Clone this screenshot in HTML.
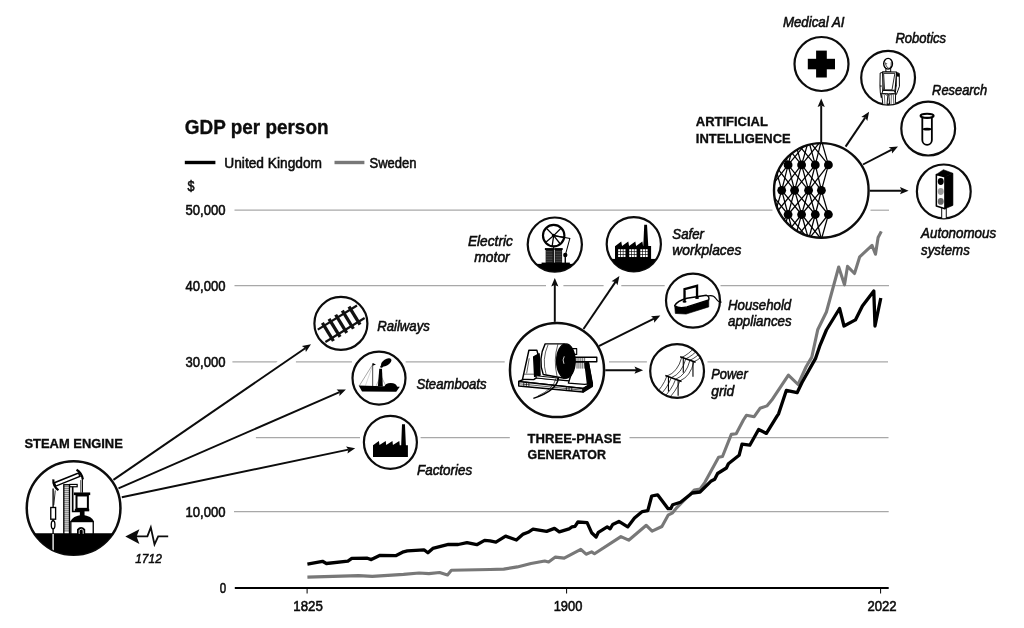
<!DOCTYPE html>
<html lang="en"><head><meta charset="utf-8"><title>GDP per person</title>
<style>html,body{margin:0;padding:0;background:#fff}svg{display:block}</style>
</head><body>
<svg width="1024" height="628" viewBox="0 0 1024 628" font-family="&quot;Liberation Sans&quot;, sans-serif">
<rect width="1024" height="628" fill="#fff"/>
<line x1="234.5" y1="210.2" x2="772.5" y2="210.2" stroke="#a8a8a8" stroke-width="1.2"/>
<line x1="870.5" y1="210.2" x2="889" y2="210.2" stroke="#a8a8a8" stroke-width="1.2"/>
<line x1="234.5" y1="285.6" x2="546" y2="285.6" stroke="#a8a8a8" stroke-width="1.2"/>
<line x1="563.4" y1="285.6" x2="603.6" y2="285.6" stroke="#a8a8a8" stroke-width="1.2"/>
<line x1="621.3" y1="285.6" x2="664.7" y2="285.6" stroke="#a8a8a8" stroke-width="1.2"/>
<line x1="720.5" y1="285.6" x2="889" y2="285.6" stroke="#a8a8a8" stroke-width="1.2"/>
<line x1="232.4" y1="361.8" x2="277.3" y2="361.8" stroke="#a8a8a8" stroke-width="1.2"/>
<line x1="295.9" y1="361.8" x2="352" y2="361.8" stroke="#a8a8a8" stroke-width="1.2"/>
<line x1="405.6" y1="361.8" x2="504.7" y2="361.8" stroke="#a8a8a8" stroke-width="1.2"/>
<line x1="609" y1="361.8" x2="646.9" y2="361.8" stroke="#a8a8a8" stroke-width="1.2"/>
<line x1="707.5" y1="361.8" x2="888" y2="361.8" stroke="#a8a8a8" stroke-width="1.2"/>
<line x1="255.9" y1="437.6" x2="360" y2="437.6" stroke="#a8a8a8" stroke-width="1.2"/>
<line x1="420.2" y1="437.6" x2="509.8" y2="437.6" stroke="#a8a8a8" stroke-width="1.2"/>
<line x1="629.5" y1="437.6" x2="888.5" y2="437.6" stroke="#a8a8a8" stroke-width="1.2"/>
<line x1="234" y1="511.6" x2="888.7" y2="511.6" stroke="#a8a8a8" stroke-width="1.2"/>
<polyline points="307.4,577.1 358.6,575.6 372.3,576.4 403.5,574.4 419.1,573.0 428.9,573.6 439.6,572.5 447.5,575.0 451.4,570.3 490.0,569.5 503.7,569.1 517.3,566.9 531.0,563.6 544.7,561.1 548.6,562.0 555.4,557.1 564.2,558.1 580.8,549.3 586.1,554.2 591.6,551.9 594.5,553.8 620.9,536.6 628.7,540.2 646.3,525.3 652.1,531.2 661.9,526.5 668.1,515.2 672.6,512.8 677.1,507.3 683.0,501.5 690.0,494.5 694.2,490.1 700.0,489.1 704.9,482.3 718.6,457.3 722.5,456.5 731.3,434.4 736.2,433.8 743.4,420.0 746.4,415.3 754.2,416.7 760.0,408.3 766.9,405.9 771.8,400.1 788.4,375.1 798.1,384.5 806.0,367.0 811.8,357.1 817.7,329.8 826.4,312.0 838.7,267.0 844.5,284.8 847.5,266.4 854.5,273.5 859.7,256.8 872.0,245.4 875.5,254.2 878.1,237.5 881.3,231.4" fill="none" stroke="#787878" stroke-width="3.1" stroke-linejoin="round" stroke-linecap="butt"/>
<polyline points="307.4,564.1 322.5,561.3 326.4,563.5 347.9,561.1 351.8,558.4 367.4,558.2 371.3,559.6 380.1,555.3 395.7,555.7 403.5,551.8 407.4,550.8 424.0,549.8 427.9,552.7 432.8,548.4 448.4,544.3 458.2,544.5 467.0,542.6 476.8,544.7 484.6,540.4 490.0,540.9 495.9,542.1 505.6,536.1 516.4,540.0 523.2,534.1 528.1,532.3 533.0,529.2 546.6,531.4 554.5,528.4 559.3,531.8 569.1,528.8 572.0,526.9 575.0,526.3 577.9,522.0 587.1,522.6 591.6,532.7 596.1,537.0 598.4,532.3 607.2,526.9 610.1,528.8 612.7,524.5 618.9,521.4 627.7,526.9 634.5,518.1 642.3,511.6 647.8,510.7 651.7,496.0 657.6,494.8 668.1,508.7 670.7,508.7 672.7,504.7 680.5,502.2 692.2,493.0 700.0,492.0 710.8,481.3 714.7,479.3 717.6,473.5 726.4,468.0 728.4,463.7 739.1,455.3 742.0,444.2 749.8,445.2 758.6,429.5 766.4,433.4 777.2,415.9 778.6,413.8 786.4,390.3 797.1,392.7 802.0,382.5 815.7,358.1 819.6,346.4 826.4,330.0 839.6,308.5 844.0,326.0 855.4,319.9 862.4,305.9 873.8,291.0 875.0,326.0 880.8,298.0" fill="none" stroke="#000" stroke-width="3.3" stroke-linejoin="round" stroke-linecap="butt"/>
<line x1="234.8" y1="588" x2="888.7" y2="588" stroke="#000" stroke-width="2"/>
<line x1="307.1" y1="588" x2="307.1" y2="593.5" stroke="#000" stroke-width="1"/>
<line x1="566.6" y1="588" x2="566.6" y2="593.5" stroke="#000" stroke-width="1"/>
<line x1="880.6" y1="588" x2="880.6" y2="593.5" stroke="#000" stroke-width="1"/>
<text x="184.8" y="133.9" font-size="19.8" font-weight="bold" font-style="normal" fill="#0c0c0c" stroke="#0c0c0c" stroke-width="0.35" textLength="143.7" lengthAdjust="spacingAndGlyphs">GDP per person</text>
<line x1="184.8" y1="162.5" x2="215.4" y2="162.5" stroke="#000" stroke-width="3.4"/>
<line x1="334.5" y1="162.5" x2="364.4" y2="162.5" stroke="#787878" stroke-width="3.4"/>
<text x="224.3" y="167.6" font-size="14.4" font-weight="normal" font-style="normal" fill="#0c0c0c" stroke="#0c0c0c" stroke-width="0.55" textLength="97.7" lengthAdjust="spacingAndGlyphs">United Kingdom</text>
<text x="369.5" y="167.6" font-size="14.4" font-weight="normal" font-style="normal" fill="#0c0c0c" stroke="#0c0c0c" stroke-width="0.55" textLength="47.1" lengthAdjust="spacingAndGlyphs">Sweden</text>
<text x="187.6" y="191.2" font-size="14" font-weight="normal" font-style="normal" fill="#0c0c0c" stroke="#0c0c0c" stroke-width="0.55" textLength="7.0" lengthAdjust="spacingAndGlyphs">$</text>
<text x="185.5" y="215.2" font-size="13.9" font-weight="normal" font-style="normal" fill="#0c0c0c" stroke="#0c0c0c" stroke-width="0.55" textLength="40.0" lengthAdjust="spacingAndGlyphs">50,000</text>
<text x="185.5" y="290.7" font-size="13.9" font-weight="normal" font-style="normal" fill="#0c0c0c" stroke="#0c0c0c" stroke-width="0.55" textLength="40.0" lengthAdjust="spacingAndGlyphs">40,000</text>
<text x="185.5" y="366.7" font-size="13.9" font-weight="normal" font-style="normal" fill="#0c0c0c" stroke="#0c0c0c" stroke-width="0.55" textLength="40.0" lengthAdjust="spacingAndGlyphs">30,000</text>
<text x="185.5" y="516.7" font-size="13.9" font-weight="normal" font-style="normal" fill="#0c0c0c" stroke="#0c0c0c" stroke-width="0.55" textLength="40.0" lengthAdjust="spacingAndGlyphs">10,000</text>
<text x="219.8" y="593.3" font-size="13.9" font-weight="normal" font-style="normal" fill="#0c0c0c" stroke="#0c0c0c" stroke-width="0.55" textLength="6.4" lengthAdjust="spacingAndGlyphs">0</text>
<text x="293.3" y="610.8" font-size="13.8" font-weight="normal" font-style="normal" fill="#0c0c0c" stroke="#0c0c0c" stroke-width="0.55" textLength="29.5" lengthAdjust="spacingAndGlyphs">1825</text>
<text x="553.7" y="610.8" font-size="13.8" font-weight="normal" font-style="normal" fill="#0c0c0c" stroke="#0c0c0c" stroke-width="0.55" textLength="28.7" lengthAdjust="spacingAndGlyphs">1900</text>
<text x="867.4" y="610.8" font-size="13.8" font-weight="normal" font-style="normal" fill="#0c0c0c" stroke="#0c0c0c" stroke-width="0.55" textLength="29.2" lengthAdjust="spacingAndGlyphs">2022</text>
<line x1="113.4" y1="479.9" x2="311.0" y2="344.2" stroke="#fff" stroke-width="9"/>
<line x1="113.4" y1="479.9" x2="305.2" y2="348.2" stroke="#0c0c0c" stroke-width="1.95"/>
<polygon points="311.0,344.2 305.9,352.0 305.2,348.2 301.9,346.1" fill="#0c0c0c"/>
<line x1="118.5" y1="488.3" x2="345.9" y2="389.4" stroke="#fff" stroke-width="9"/>
<line x1="118.5" y1="488.3" x2="339.5" y2="392.2" stroke="#0c0c0c" stroke-width="1.95"/>
<polygon points="345.9,389.4 339.4,396.1 339.5,392.2 336.6,389.5" fill="#0c0c0c"/>
<line x1="121.8" y1="497.2" x2="355.2" y2="448.2" stroke="#fff" stroke-width="9"/>
<line x1="121.8" y1="497.2" x2="348.3" y2="449.6" stroke="#0c0c0c" stroke-width="1.95"/>
<polygon points="355.2,448.2 347.5,453.5 348.3,449.6 346.0,446.4" fill="#0c0c0c"/>
<line x1="554.8" y1="322.0" x2="554.8" y2="278.0" stroke="#fff" stroke-width="9"/>
<line x1="554.8" y1="322.0" x2="554.8" y2="285.0" stroke="#0c0c0c" stroke-width="1.95"/>
<polygon points="554.8,278.0 558.4,286.6 554.8,285.0 551.2,286.6" fill="#0c0c0c"/>
<line x1="583.5" y1="329.0" x2="619.4" y2="276.1" stroke="#fff" stroke-width="9"/>
<line x1="583.5" y1="329.0" x2="615.5" y2="281.9" stroke="#0c0c0c" stroke-width="1.95"/>
<polygon points="619.4,276.1 617.5,285.2 615.5,281.9 611.6,281.2" fill="#0c0c0c"/>
<line x1="598.8" y1="346.2" x2="660.3" y2="315.6" stroke="#fff" stroke-width="9"/>
<line x1="598.8" y1="346.2" x2="654.0" y2="318.7" stroke="#0c0c0c" stroke-width="1.95"/>
<polygon points="660.3,315.6 654.2,322.7 654.0,318.7 651.0,316.2" fill="#0c0c0c"/>
<line x1="604.5" y1="370.2" x2="643.1" y2="370.2" stroke="#fff" stroke-width="9"/>
<line x1="604.5" y1="370.2" x2="636.1" y2="370.2" stroke="#0c0c0c" stroke-width="1.95"/>
<polygon points="643.1,370.2 634.5,373.8 636.1,370.2 634.5,366.6" fill="#0c0c0c"/>
<line x1="821.2" y1="142.0" x2="821.2" y2="98.5" stroke="#fff" stroke-width="9"/>
<line x1="821.2" y1="142.0" x2="821.2" y2="105.5" stroke="#0c0c0c" stroke-width="1.95"/>
<polygon points="821.2,98.5 824.8,107.1 821.2,105.5 817.6,107.1" fill="#0c0c0c"/>
<line x1="845.6" y1="146.6" x2="869.1" y2="111.8" stroke="#fff" stroke-width="9"/>
<line x1="845.6" y1="146.6" x2="865.2" y2="117.6" stroke="#0c0c0c" stroke-width="1.95"/>
<polygon points="869.1,111.8 867.3,120.9 865.2,117.6 861.3,116.9" fill="#0c0c0c"/>
<line x1="863.0" y1="164.5" x2="898.0" y2="146.4" stroke="#fff" stroke-width="9"/>
<line x1="863.0" y1="164.5" x2="891.8" y2="149.6" stroke="#0c0c0c" stroke-width="1.95"/>
<polygon points="898.0,146.4 892.0,153.5 891.8,149.6 888.7,147.2" fill="#0c0c0c"/>
<line x1="867.8" y1="190.7" x2="908.6" y2="190.7" stroke="#fff" stroke-width="9"/>
<line x1="867.8" y1="190.7" x2="901.6" y2="190.7" stroke="#0c0c0c" stroke-width="1.95"/>
<polygon points="908.6,190.7 900.0,194.3 901.6,190.7 900.0,187.1" fill="#0c0c0c"/>
<polyline points="168.2,536.4 158.2,536.4 154.5,544.4 150.8,527.4 147.4,536.4 134,536.4" fill="none" stroke="#0c0c0c" stroke-width="1.8" stroke-linejoin="miter"/>
<polygon points="125.3,536.4 139.4,529.2 136.6,536.4 139.4,544" fill="#0c0c0c"/>
<text x="135.2" y="562.7" font-size="13.6" font-weight="normal" font-style="italic" fill="#0c0c0c" stroke="#0c0c0c" stroke-width="0.55" textLength="26.6" lengthAdjust="spacingAndGlyphs">1712</text>
<circle cx="73.6" cy="508.0" r="48.1" fill="#fff"/>
<circle cx="73.6" cy="508.0" r="46.85" fill="#fff" stroke="#0c0c0c" stroke-width="2.5"/>
<clipPath id="cSteam"><circle cx="73.6" cy="508" r="46.8"/></clipPath>
<g clip-path="url(#cSteam)">
<rect x="20" y="533.4" width="110" height="30" fill="#0c0c0c"/>
</g>
<text x="24.5" y="447.5" font-size="13.7" font-weight="bold" font-style="normal" fill="#0c0c0c" stroke="#0c0c0c" stroke-width="0.35" textLength="98.3" lengthAdjust="spacingAndGlyphs">STEAM ENGINE</text>
<circle cx="340.9" cy="323.4" r="30.6" fill="#fff"/>
<circle cx="340.9" cy="323.4" r="26.50" fill="#fff" stroke="#0c0c0c" stroke-width="2.2"/>
<g transform="translate(341.2,323.8) rotate(-31.5)" fill="#111">
<rect x="-23" y="-8.4" width="46" height="2.2"/><rect x="-23" y="6.2" width="46" height="2.2"/>
<rect x="-17.25" y="-10.6" width="3.3" height="21.2"/>
<rect x="-9.45" y="-10.6" width="3.3" height="21.2"/>
<rect x="-1.65" y="-10.6" width="3.3" height="21.2"/>
<rect x="6.15" y="-10.6" width="3.3" height="21.2"/>
<rect x="13.95" y="-10.6" width="3.3" height="21.2"/>
</g>
<text x="377.2" y="331.0" font-size="14.0" font-weight="normal" font-style="italic" fill="#0c0c0c" stroke="#0c0c0c" stroke-width="0.55" textLength="52.6" lengthAdjust="spacingAndGlyphs">Railways</text>
<circle cx="379.0" cy="378.1" r="30.6" fill="#fff"/>
<circle cx="379.0" cy="378.1" r="26.50" fill="#fff" stroke="#0c0c0c" stroke-width="2.2"/>
<text x="416.4" y="389.3" font-size="14.0" font-weight="normal" font-style="italic" fill="#0c0c0c" stroke="#0c0c0c" stroke-width="0.55" textLength="70.2" lengthAdjust="spacingAndGlyphs">Steamboats</text>
<circle cx="390.4" cy="442.3" r="30.6" fill="#fff"/>
<circle cx="390.4" cy="442.3" r="26.50" fill="#fff" stroke="#0c0c0c" stroke-width="2.2"/>
<text x="417.0" y="475.0" font-size="14.0" font-weight="normal" font-style="italic" fill="#0c0c0c" stroke="#0c0c0c" stroke-width="0.55" textLength="55.2" lengthAdjust="spacingAndGlyphs">Factories</text>
<circle cx="557.0" cy="370.0" r="48.3" fill="#fff"/>
<circle cx="557.0" cy="370.0" r="47.05" fill="#fff" stroke="#0c0c0c" stroke-width="2.5"/>
<text x="527.6" y="442.6" font-size="13.7" font-weight="bold" font-style="normal" fill="#0c0c0c" stroke="#0c0c0c" stroke-width="0.35" textLength="93.6" lengthAdjust="spacingAndGlyphs">THREE-PHASE</text>
<text x="527.6" y="459.1" font-size="13.7" font-weight="bold" font-style="normal" fill="#0c0c0c" stroke="#0c0c0c" stroke-width="0.35" textLength="78.3" lengthAdjust="spacingAndGlyphs">GENERATOR</text>
<circle cx="554.8" cy="244.6" r="28.2" fill="#fff"/>
<circle cx="554.8" cy="244.6" r="27.10" fill="#fff" stroke="#0c0c0c" stroke-width="2.2"/>
<text x="467.9" y="245.5" font-size="14.0" font-weight="normal" font-style="italic" fill="#0c0c0c" stroke="#0c0c0c" stroke-width="0.55" textLength="45.0" lengthAdjust="spacingAndGlyphs">Electric</text>
<text x="474.3" y="262.4" font-size="14.0" font-weight="normal" font-style="italic" fill="#0c0c0c" stroke="#0c0c0c" stroke-width="0.55" textLength="35.4" lengthAdjust="spacingAndGlyphs">motor</text>
<circle cx="633.8" cy="244.2" r="28.2" fill="#fff"/>
<circle cx="633.8" cy="244.2" r="27.10" fill="#fff" stroke="#0c0c0c" stroke-width="2.2"/>
<text x="672.3" y="238.6" font-size="14.0" font-weight="normal" font-style="italic" fill="#0c0c0c" stroke="#0c0c0c" stroke-width="0.55" textLength="31.7" lengthAdjust="spacingAndGlyphs">Safer</text>
<text x="672.3" y="255.3" font-size="14.0" font-weight="normal" font-style="italic" fill="#0c0c0c" stroke="#0c0c0c" stroke-width="0.55" textLength="69.0" lengthAdjust="spacingAndGlyphs">workplaces</text>
<circle cx="693.0" cy="300.6" r="28.1" fill="#fff"/>
<circle cx="693.0" cy="300.6" r="27.00" fill="#fff" stroke="#0c0c0c" stroke-width="2.2"/>
<text x="728.0" y="310.0" font-size="14.0" font-weight="normal" font-style="italic" fill="#0c0c0c" stroke="#0c0c0c" stroke-width="0.55" textLength="63.2" lengthAdjust="spacingAndGlyphs">Household</text>
<text x="728.0" y="326.4" font-size="14.0" font-weight="normal" font-style="italic" fill="#0c0c0c" stroke="#0c0c0c" stroke-width="0.55" textLength="63.6" lengthAdjust="spacingAndGlyphs">appliances</text>
<circle cx="677.1" cy="371.0" r="28.0" fill="#fff"/>
<circle cx="677.1" cy="371.0" r="26.90" fill="#fff" stroke="#0c0c0c" stroke-width="2.2"/>
<text x="711.2" y="379.2" font-size="14.0" font-weight="normal" font-style="italic" fill="#0c0c0c" stroke="#0c0c0c" stroke-width="0.55" textLength="36.5" lengthAdjust="spacingAndGlyphs">Power</text>
<text x="711.2" y="395.6" font-size="14.0" font-weight="normal" font-style="italic" fill="#0c0c0c" stroke="#0c0c0c" stroke-width="0.55" textLength="23.1" lengthAdjust="spacingAndGlyphs">grid</text>
<circle cx="821.3" cy="190.4" r="48.5" fill="#fff"/>
<circle cx="821.3" cy="190.4" r="47.30" fill="#fff" stroke="#0c0c0c" stroke-width="2.4"/>
<text x="695.8" y="126.3" font-size="13.7" font-weight="bold" font-style="normal" fill="#0c0c0c" stroke="#0c0c0c" stroke-width="0.35" textLength="72.1" lengthAdjust="spacingAndGlyphs">ARTIFICIAL</text>
<text x="695.8" y="143.0" font-size="13.7" font-weight="bold" font-style="normal" fill="#0c0c0c" stroke="#0c0c0c" stroke-width="0.35" textLength="94.9" lengthAdjust="spacingAndGlyphs">INTELLIGENCE</text>
<circle cx="821.5" cy="64.0" r="28.1" fill="#fff"/>
<circle cx="821.5" cy="64.0" r="27.00" fill="#fff" stroke="#0c0c0c" stroke-width="2.2"/>
<rect x="807.8" y="58.8" width="27.2" height="10.5" fill="#000"/><rect x="816.1" y="50.6" width="10.7" height="26.9" fill="#000"/>
<text x="782.9" y="27.3" font-size="14.0" font-weight="normal" font-style="italic" fill="#0c0c0c" stroke="#0c0c0c" stroke-width="0.55" textLength="61.6" lengthAdjust="spacingAndGlyphs">Medical AI</text>
<circle cx="888.1" cy="77.8" r="28.0" fill="#fff"/>
<circle cx="888.1" cy="77.8" r="26.90" fill="#fff" stroke="#0c0c0c" stroke-width="2.2"/>
<text x="895.4" y="43.3" font-size="14.0" font-weight="normal" font-style="italic" fill="#0c0c0c" stroke="#0c0c0c" stroke-width="0.55" textLength="50.7" lengthAdjust="spacingAndGlyphs">Robotics</text>
<circle cx="928.2" cy="128.6" r="28.0" fill="#fff"/>
<circle cx="928.2" cy="128.6" r="26.90" fill="#fff" stroke="#0c0c0c" stroke-width="2.2"/>
<text x="932.1" y="94.9" font-size="14.0" font-weight="normal" font-style="italic" fill="#0c0c0c" stroke="#0c0c0c" stroke-width="0.55" textLength="55.1" lengthAdjust="spacingAndGlyphs">Research</text>
<circle cx="943.8" cy="191.4" r="28.0" fill="#fff"/>
<circle cx="943.8" cy="191.4" r="26.90" fill="#fff" stroke="#0c0c0c" stroke-width="2.2"/>
<text x="921.1" y="237.9" font-size="14.0" font-weight="normal" font-style="italic" fill="#0c0c0c" stroke="#0c0c0c" stroke-width="0.55" textLength="75.0" lengthAdjust="spacingAndGlyphs">Autonomous</text>
<text x="921.1" y="254.7" font-size="14.0" font-weight="normal" font-style="italic" fill="#0c0c0c" stroke="#0c0c0c" stroke-width="0.55" textLength="48.7" lengthAdjust="spacingAndGlyphs">systems</text>
<clipPath id="cSteam2"><circle cx="73.6" cy="508" r="46.8"/></clipPath>
<g clip-path="url(#cSteam2)">
<g transform="translate(20,455) scale(0.16720)" stroke="#000" fill="none" stroke-width="8">
<rect x="0" y="470" width="640" height="170" fill="#000" stroke="none"/>
<rect x="262" y="178" width="34" height="294" fill="#fff" stroke-width="8"/>
<line x1="262" y1="190" x2="296" y2="190" stroke-width="4"/>
<line x1="262" y1="202" x2="296" y2="202" stroke-width="4"/>
<line x1="262" y1="214" x2="296" y2="214" stroke-width="4"/>
<line x1="262" y1="226" x2="296" y2="226" stroke-width="4"/>
<line x1="262" y1="238" x2="296" y2="238" stroke-width="4"/>
<line x1="262" y1="250" x2="296" y2="250" stroke-width="4"/>
<line x1="262" y1="262" x2="296" y2="262" stroke-width="4"/>
<line x1="262" y1="274" x2="296" y2="274" stroke-width="4"/>
<line x1="262" y1="286" x2="296" y2="286" stroke-width="4"/>
<line x1="262" y1="298" x2="296" y2="298" stroke-width="4"/>
<line x1="262" y1="310" x2="296" y2="310" stroke-width="4"/>
<line x1="262" y1="322" x2="296" y2="322" stroke-width="4"/>
<line x1="262" y1="334" x2="296" y2="334" stroke-width="4"/>
<line x1="262" y1="346" x2="296" y2="346" stroke-width="4"/>
<line x1="262" y1="358" x2="296" y2="358" stroke-width="4"/>
<line x1="262" y1="370" x2="296" y2="370" stroke-width="4"/>
<line x1="262" y1="382" x2="296" y2="382" stroke-width="4"/>
<line x1="262" y1="394" x2="296" y2="394" stroke-width="4"/>
<line x1="262" y1="406" x2="296" y2="406" stroke-width="4"/>
<line x1="262" y1="418" x2="296" y2="418" stroke-width="4"/>
<line x1="262" y1="430" x2="296" y2="430" stroke-width="4"/>
<line x1="262" y1="442" x2="296" y2="442" stroke-width="4"/>
<line x1="262" y1="454" x2="296" y2="454" stroke-width="4"/>
<rect x="297" y="176" width="45" height="14" fill="#fff" stroke-width="7"/>
<polyline points="315,190 315,338 362,338" stroke-width="10"/>
<g transform="translate(282,147) rotate(-21.8)"><rect x="-78" y="-11" width="156" height="22" fill="#fff" stroke-width="9"/><path d="M-76,-32 Q-94,2 -72,40" stroke-width="13" fill="none"/><path d="M74,-34 Q96,-6 88,34" stroke-width="13" fill="none"/></g>
<line x1="198" y1="200" x2="198" y2="312" stroke-width="8"/><line x1="211" y1="212" x2="202" y2="300" stroke-width="5"/>
<rect x="184" y="314" width="29" height="70" fill="#fff" stroke-width="8"/>
<ellipse cx="198" cy="417" rx="11" ry="24" fill="#fff" stroke-width="8"/>
<line x1="198" y1="384" x2="198" y2="394" stroke-width="8"/><line x1="198" y1="440" x2="198" y2="472" stroke-width="8"/>
<line x1="198" y1="472" x2="198" y2="575" stroke="#fff" stroke-width="8"/>
<line x1="373" y1="135" x2="373" y2="226" stroke-width="7"/><line x1="363" y1="150" x2="363" y2="226" stroke-width="4"/>
<rect x="322" y="224" width="98" height="16" fill="#000" stroke="none"/>
<rect x="338" y="242" width="68" height="80" fill="#fff" stroke-width="12"/>
<rect x="328" y="322" width="86" height="15" fill="#000" stroke="none"/>
<rect x="358" y="334" width="28" height="32" fill="#000" stroke="none"/>
<path d="M302,398 Q314,366 372,358 Q430,366 442,398 Z" fill="#000" stroke="none"/>
<rect x="304" y="398" width="134" height="74" fill="#fff" stroke-width="8"/>
<path d="M341,472 V444 Q365,416 390,444 V472 Z" fill="#000" stroke="none"/>
<path d="M354,472 V450 Q366,436 378,450 V472" fill="none" stroke="#fff" stroke-width="5"/>
</g>
</g>
<g transform="translate(330,340) scale(0.11788)" stroke="#000" fill="#000">
<polygon points="243,387 592,397 562,439 272,437" stroke="none"/>
<line x1="362" y1="200" x2="362" y2="392" stroke-width="6"/>
<polygon points="362,196 390,208 362,218" stroke="none"/>
<line x1="358" y1="214" x2="250" y2="386" stroke-width="3"/><line x1="360" y1="222" x2="300" y2="388" stroke-width="2" stroke="#555"/>
<line x1="440" y1="320" x2="472" y2="386" stroke-width="2.5"/><line x1="418" y1="330" x2="392" y2="388" stroke-width="2.5"/>
<polygon points="418,244 441,244 448,392 406,392" stroke="none"/>
<ellipse cx="477" cy="190" rx="50" ry="26" transform="rotate(-33 477 190)" stroke="none"/>
<ellipse cx="440" cy="222" rx="16" ry="11" transform="rotate(-40 440 222)" stroke="none"/>
<path d="M460,398 Q468,366 515,364 Q562,366 570,398 Z" stroke="none"/>
</g>
<g transform="translate(340,406) scale(0.11788)" fill="#000">
<polygon points="280,432 280,334 330,297 335,330 388,297 392,330 445,297 449,330 503,297 507,334 519,334 526,154 551,154 559,334 576,334 576,432"/>
</g>
<clipPath id="cGen"><circle cx="557" cy="370" r="47"/></clipPath>
<g clip-path="url(#cGen)">
<g transform="translate(505,320) scale(0.15934)" stroke="#000" fill="#fff" stroke-width="9" stroke-linejoin="round">
<polygon points="86,386 150,358 548,396 490,430"/>
<polygon points="86,386 490,430 490,452 86,414"/>
<polygon points="490,430 548,396 548,416 490,452" fill="#000"/>
<line x1="86" y1="400" x2="490" y2="441" stroke-width="4"/>
<line x1="118" y1="391" x2="118" y2="417" stroke-width="5"/>
<line x1="134" y1="393" x2="134" y2="419" stroke-width="5"/>
<line x1="150" y1="395" x2="150" y2="420" stroke-width="5"/>
<line x1="385" y1="421" x2="385" y2="442" stroke-width="5"/>
<line x1="402" y1="422" x2="402" y2="444" stroke-width="5"/>
<line x1="419" y1="424" x2="419" y2="445" stroke-width="5"/>
<polygon points="110,372 150,190 200,190 214,240 214,352 180,374"/>
<polygon points="180,232 214,212 220,345 186,354" fill="#000"/>
<line x1="152" y1="240" x2="136" y2="335" stroke-width="4"/>
<line x1="120" y1="340" x2="184" y2="340" stroke-width="4"/>
<polygon points="398,396 440,262 522,262 546,398 500,404"/>
<polygon points="502,272 522,262 548,398 518,402" fill="#000"/>
<rect x="438" y="234" width="138" height="28"/>
<line x1="452" y1="236" x2="452" y2="305" stroke-width="4"/>
<line x1="464" y1="236" x2="464" y2="305" stroke-width="4"/>
<line x1="476" y1="236" x2="476" y2="305" stroke-width="4"/>
<line x1="488" y1="236" x2="488" y2="305" stroke-width="4"/>
<line x1="500" y1="236" x2="500" y2="305" stroke-width="4"/>
<rect x="420" y="180" width="30" height="36" stroke-width="7"/>
<path d="M252,150 L372,150 L372,366 L240,342 Q205,245 252,150 Z"/>
<path d="M270,156 Q230,245 258,342" fill="none" stroke-width="4"/>
<path d="M332,152 Q302,250 327,354" fill="none" stroke-width="4"/>
<ellipse cx="382" cy="258" rx="58" ry="108" fill="#000"/>
<path d="M372,228 Q358,250 370,275" fill="none" stroke="#fff" stroke-width="5"/>
<polygon points="196,350 330,364 330,378 196,364" stroke-width="6"/>
<path d="M336,362 Q326,445 178,492" fill="none" stroke-width="9"/><path d="M320,366 Q305,432 205,478" fill="none" stroke-width="4"/>
</g>
</g>
<clipPath id="cEm"><circle cx="554.75" cy="244.6" r="27"/></clipPath>
<g clip-path="url(#cEm)">
<g transform="translate(460,205) scale(0.12745)" stroke="#000" fill="none">
<rect x="500" y="462" width="500" height="100" fill="#000" stroke="none"/>
<rect x="640" y="452" width="222" height="14" fill="#000" stroke="none"/>
<circle cx="735" cy="240" r="84" stroke-width="17"/>
<line x1="735" y1="240" x2="676" y2="181" stroke-width="10"/>
<line x1="735" y1="240" x2="794" y2="181" stroke-width="10"/>
<line x1="735" y1="240" x2="818" y2="255" stroke-width="10"/>
<line x1="735" y1="240" x2="787" y2="306" stroke-width="10"/>
<line x1="735" y1="240" x2="723" y2="323" stroke-width="10"/>
<line x1="735" y1="240" x2="671" y2="294" stroke-width="10"/>
<circle cx="735" cy="240" r="14" fill="#000" stroke="none"/>
<line x1="735" y1="320" x2="735" y2="455" stroke-width="9"/>
<rect x="672" y="352" width="58" height="104" fill="#151515" stroke="none"/><rect x="745" y="352" width="56" height="104" fill="#151515" stroke="none"/>
<line x1="676" y1="364" x2="726" y2="364" stroke="#999" stroke-width="3"/><line x1="749" y1="364" x2="797" y2="364" stroke="#999" stroke-width="3"/>
<line x1="676" y1="377" x2="726" y2="377" stroke="#999" stroke-width="3"/><line x1="749" y1="377" x2="797" y2="377" stroke="#999" stroke-width="3"/>
<line x1="676" y1="390" x2="726" y2="390" stroke="#999" stroke-width="3"/><line x1="749" y1="390" x2="797" y2="390" stroke="#999" stroke-width="3"/>
<line x1="676" y1="403" x2="726" y2="403" stroke="#999" stroke-width="3"/><line x1="749" y1="403" x2="797" y2="403" stroke="#999" stroke-width="3"/>
<line x1="676" y1="416" x2="726" y2="416" stroke="#999" stroke-width="3"/><line x1="749" y1="416" x2="797" y2="416" stroke="#999" stroke-width="3"/>
<line x1="676" y1="429" x2="726" y2="429" stroke="#999" stroke-width="3"/><line x1="749" y1="429" x2="797" y2="429" stroke="#999" stroke-width="3"/>
<line x1="676" y1="442" x2="726" y2="442" stroke="#999" stroke-width="3"/><line x1="749" y1="442" x2="797" y2="442" stroke="#999" stroke-width="3"/>
<rect x="666" y="338" width="70" height="15" fill="#000" stroke="none"/><rect x="740" y="338" width="66" height="15" fill="#000" stroke="none"/>
<polyline points="735,240 862,262 828,388" stroke-width="8"/>
<circle cx="826" cy="392" r="17" fill="#000" stroke="none"/>
<line x1="826" y1="392" x2="826" y2="460" stroke-width="11"/>
</g>
</g>
<clipPath id="cSw"><circle cx="633.75" cy="244.2" r="27"/></clipPath>
<g clip-path="url(#cSw)">
<g transform="translate(590,205) scale(0.15625)" fill="#000">
<rect x="60" y="345" width="450" height="100"/>
<polygon points="160,346 160,264 200,234 205,262 245,234 250,262 290,234 295,262 335,234 340,262 341,262 347,127 365,127 373,262 391,262 391,346"/>
<rect x="180" y="283" width="13" height="14" fill="#fff"/>
<rect x="180" y="301" width="13" height="14" fill="#fff"/>
<rect x="180" y="319" width="13" height="14" fill="#fff"/>
<rect x="197" y="283" width="13" height="14" fill="#fff"/>
<rect x="197" y="301" width="13" height="14" fill="#fff"/>
<rect x="197" y="319" width="13" height="14" fill="#fff"/>
<rect x="214" y="283" width="13" height="14" fill="#fff"/>
<rect x="214" y="301" width="13" height="14" fill="#fff"/>
<rect x="214" y="319" width="13" height="14" fill="#fff"/>
<rect x="251" y="283" width="13" height="14" fill="#fff"/>
<rect x="251" y="301" width="13" height="14" fill="#fff"/>
<rect x="251" y="319" width="13" height="14" fill="#fff"/>
<rect x="268" y="283" width="13" height="14" fill="#fff"/>
<rect x="268" y="301" width="13" height="14" fill="#fff"/>
<rect x="268" y="319" width="13" height="14" fill="#fff"/>
<rect x="285" y="283" width="13" height="14" fill="#fff"/>
<rect x="285" y="301" width="13" height="14" fill="#fff"/>
<rect x="285" y="319" width="13" height="14" fill="#fff"/>
<rect x="322" y="283" width="13" height="14" fill="#fff"/>
<rect x="322" y="301" width="13" height="14" fill="#fff"/>
<rect x="322" y="319" width="13" height="14" fill="#fff"/>
<rect x="339" y="283" width="13" height="14" fill="#fff"/>
<rect x="339" y="301" width="13" height="14" fill="#fff"/>
<rect x="339" y="319" width="13" height="14" fill="#fff"/>
<rect x="356" y="283" width="13" height="14" fill="#fff"/>
<rect x="356" y="301" width="13" height="14" fill="#fff"/>
<rect x="356" y="319" width="13" height="14" fill="#fff"/>
</g>
</g>
<g transform="translate(640,260) scale(0.15625)" stroke="#000" fill="none" stroke-linejoin="round">
<path d="M428,232 Q468,220 484,245 T522,270" stroke-width="8"/>
<path d="M222,292 Q250,314 300,300 L440,255 L440,300 L295,346 L226,342 Z" fill="#000" stroke-width="4"/>
<path d="M222,292 Q238,262 300,245 L425,226 Q446,232 440,255 L300,300 Q250,314 222,292 Z" fill="#fff" stroke-width="9"/>
<ellipse cx="285" cy="267" rx="13" ry="7" fill="#000" stroke="none"/><ellipse cx="365" cy="243" rx="13" ry="7" fill="#000" stroke="none"/>
<polyline points="285,266 285,187 365,165 365,242" stroke-width="15" stroke-linejoin="miter"/>
</g>
<clipPath id="cPg"><circle cx="677.1" cy="371" r="26.8"/></clipPath>
<g clip-path="url(#cPg)">
<g transform="translate(600,330) scale(0.15625)" stroke="#000" fill="none">
<path d="M618,100 Q563,160 523,175 Q498,270 428,295 Q403,365 343,420" stroke-width="4.6"/>
<path d="M644,109 Q589,169 549,184 Q524,280 456,305 Q431,375 371,430" stroke-width="4.6"/>
<path d="M671,118 Q616,178 576,193 Q551,290 484,315 Q459,385 399,440" stroke-width="4.6"/>
<path d="M697,127 Q642,187 602,202 Q577,300 512,325 Q487,395 427,450" stroke-width="4.6"/>
<line x1="418" y1="291" x2="522" y2="329" stroke-width="10"/><line x1="438" y1="298" x2="438" y2="394" stroke-width="7"/><line x1="500" y1="322" x2="500" y2="420" stroke-width="7"/>
<line x1="513" y1="171" x2="612" y2="206" stroke-width="10"/><line x1="533" y1="178" x2="533" y2="274" stroke-width="7"/><line x1="595" y1="200" x2="595" y2="299" stroke-width="7"/>
</g>
</g>
<clipPath id="cAi"><circle cx="821.3" cy="190.4" r="47.3"/></clipPath>
<g clip-path="url(#cAi)" stroke="#000" stroke-width="1.25">
<line x1="774.7" y1="115.5" x2="768.2" y2="140.3"/>
<line x1="774.7" y1="115.5" x2="781.7" y2="140.3"/>
<line x1="774.7" y1="115.5" x2="794.6" y2="140.3"/>
<line x1="788.1" y1="115.5" x2="768.2" y2="140.3"/>
<line x1="788.1" y1="115.5" x2="781.7" y2="140.3"/>
<line x1="788.1" y1="115.5" x2="794.6" y2="140.3"/>
<line x1="788.1" y1="115.5" x2="808.6" y2="140.3"/>
<line x1="801.6" y1="115.5" x2="781.7" y2="140.3"/>
<line x1="801.6" y1="115.5" x2="794.6" y2="140.3"/>
<line x1="801.6" y1="115.5" x2="808.6" y2="140.3"/>
<line x1="801.6" y1="115.5" x2="821.4" y2="140.3"/>
<line x1="815.3" y1="115.5" x2="794.6" y2="140.3"/>
<line x1="815.3" y1="115.5" x2="808.6" y2="140.3"/>
<line x1="815.3" y1="115.5" x2="821.4" y2="140.3"/>
<line x1="828.4" y1="115.5" x2="808.6" y2="140.3"/>
<line x1="828.4" y1="115.5" x2="821.4" y2="140.3"/>
<line x1="768.2" y1="140.3" x2="774.7" y2="164.9"/>
<line x1="768.2" y1="140.3" x2="788.1" y2="164.9"/>
<line x1="781.7" y1="140.3" x2="774.7" y2="164.9"/>
<line x1="781.7" y1="140.3" x2="788.1" y2="164.9"/>
<line x1="781.7" y1="140.3" x2="801.6" y2="164.9"/>
<line x1="794.6" y1="140.3" x2="774.7" y2="164.9"/>
<line x1="794.6" y1="140.3" x2="788.1" y2="164.9"/>
<line x1="794.6" y1="140.3" x2="801.6" y2="164.9"/>
<line x1="794.6" y1="140.3" x2="815.3" y2="164.9"/>
<line x1="808.6" y1="140.3" x2="788.1" y2="164.9"/>
<line x1="808.6" y1="140.3" x2="801.6" y2="164.9"/>
<line x1="808.6" y1="140.3" x2="815.3" y2="164.9"/>
<line x1="808.6" y1="140.3" x2="828.4" y2="164.9"/>
<line x1="821.4" y1="140.3" x2="801.6" y2="164.9"/>
<line x1="821.4" y1="140.3" x2="815.3" y2="164.9"/>
<line x1="821.4" y1="140.3" x2="828.4" y2="164.9"/>
<line x1="774.7" y1="164.9" x2="768.2" y2="190.3"/>
<line x1="774.7" y1="164.9" x2="781.7" y2="190.3"/>
<line x1="774.7" y1="164.9" x2="794.6" y2="190.3"/>
<line x1="788.1" y1="164.9" x2="768.2" y2="190.3"/>
<line x1="788.1" y1="164.9" x2="781.7" y2="190.3"/>
<line x1="788.1" y1="164.9" x2="794.6" y2="190.3"/>
<line x1="788.1" y1="164.9" x2="808.6" y2="190.3"/>
<line x1="801.6" y1="164.9" x2="781.7" y2="190.3"/>
<line x1="801.6" y1="164.9" x2="794.6" y2="190.3"/>
<line x1="801.6" y1="164.9" x2="808.6" y2="190.3"/>
<line x1="801.6" y1="164.9" x2="821.4" y2="190.3"/>
<line x1="815.3" y1="164.9" x2="794.6" y2="190.3"/>
<line x1="815.3" y1="164.9" x2="808.6" y2="190.3"/>
<line x1="815.3" y1="164.9" x2="821.4" y2="190.3"/>
<line x1="828.4" y1="164.9" x2="808.6" y2="190.3"/>
<line x1="828.4" y1="164.9" x2="821.4" y2="190.3"/>
<line x1="768.2" y1="190.3" x2="774.7" y2="214.5"/>
<line x1="768.2" y1="190.3" x2="788.1" y2="214.5"/>
<line x1="781.7" y1="190.3" x2="774.7" y2="214.5"/>
<line x1="781.7" y1="190.3" x2="788.1" y2="214.5"/>
<line x1="781.7" y1="190.3" x2="801.6" y2="214.5"/>
<line x1="794.6" y1="190.3" x2="774.7" y2="214.5"/>
<line x1="794.6" y1="190.3" x2="788.1" y2="214.5"/>
<line x1="794.6" y1="190.3" x2="801.6" y2="214.5"/>
<line x1="794.6" y1="190.3" x2="815.3" y2="214.5"/>
<line x1="808.6" y1="190.3" x2="788.1" y2="214.5"/>
<line x1="808.6" y1="190.3" x2="801.6" y2="214.5"/>
<line x1="808.6" y1="190.3" x2="815.3" y2="214.5"/>
<line x1="808.6" y1="190.3" x2="828.4" y2="214.5"/>
<line x1="821.4" y1="190.3" x2="801.6" y2="214.5"/>
<line x1="821.4" y1="190.3" x2="815.3" y2="214.5"/>
<line x1="821.4" y1="190.3" x2="828.4" y2="214.5"/>
<line x1="774.7" y1="214.5" x2="768.2" y2="239.3"/>
<line x1="774.7" y1="214.5" x2="781.7" y2="239.3"/>
<line x1="774.7" y1="214.5" x2="794.6" y2="239.3"/>
<line x1="788.1" y1="214.5" x2="768.2" y2="239.3"/>
<line x1="788.1" y1="214.5" x2="781.7" y2="239.3"/>
<line x1="788.1" y1="214.5" x2="794.6" y2="239.3"/>
<line x1="788.1" y1="214.5" x2="808.6" y2="239.3"/>
<line x1="801.6" y1="214.5" x2="781.7" y2="239.3"/>
<line x1="801.6" y1="214.5" x2="794.6" y2="239.3"/>
<line x1="801.6" y1="214.5" x2="808.6" y2="239.3"/>
<line x1="801.6" y1="214.5" x2="821.4" y2="239.3"/>
<line x1="815.3" y1="214.5" x2="794.6" y2="239.3"/>
<line x1="815.3" y1="214.5" x2="808.6" y2="239.3"/>
<line x1="815.3" y1="214.5" x2="821.4" y2="239.3"/>
<line x1="828.4" y1="214.5" x2="808.6" y2="239.3"/>
<line x1="828.4" y1="214.5" x2="821.4" y2="239.3"/>
<line x1="768.2" y1="239.3" x2="774.7" y2="264"/>
<line x1="768.2" y1="239.3" x2="788.1" y2="264"/>
<line x1="781.7" y1="239.3" x2="774.7" y2="264"/>
<line x1="781.7" y1="239.3" x2="788.1" y2="264"/>
<line x1="781.7" y1="239.3" x2="801.6" y2="264"/>
<line x1="794.6" y1="239.3" x2="774.7" y2="264"/>
<line x1="794.6" y1="239.3" x2="788.1" y2="264"/>
<line x1="794.6" y1="239.3" x2="801.6" y2="264"/>
<line x1="794.6" y1="239.3" x2="815.3" y2="264"/>
<line x1="808.6" y1="239.3" x2="788.1" y2="264"/>
<line x1="808.6" y1="239.3" x2="801.6" y2="264"/>
<line x1="808.6" y1="239.3" x2="815.3" y2="264"/>
<line x1="808.6" y1="239.3" x2="828.4" y2="264"/>
<line x1="821.4" y1="239.3" x2="801.6" y2="264"/>
<line x1="821.4" y1="239.3" x2="815.3" y2="264"/>
<line x1="821.4" y1="239.3" x2="828.4" y2="264"/>
<circle cx="774.7" cy="164.9" r="4.4" fill="#000" stroke="none"/>
<circle cx="788.1" cy="164.9" r="4.4" fill="#000" stroke="none"/>
<circle cx="801.6" cy="164.9" r="4.4" fill="#000" stroke="none"/>
<circle cx="815.3" cy="164.9" r="4.4" fill="#000" stroke="none"/>
<circle cx="828.4" cy="164.9" r="4.4" fill="#000" stroke="none"/>
<circle cx="768.2" cy="190.3" r="4.4" fill="#000" stroke="none"/>
<circle cx="781.7" cy="190.3" r="4.4" fill="#000" stroke="none"/>
<circle cx="794.6" cy="190.3" r="4.4" fill="#000" stroke="none"/>
<circle cx="808.6" cy="190.3" r="4.4" fill="#000" stroke="none"/>
<circle cx="821.4" cy="190.3" r="4.4" fill="#000" stroke="none"/>
<circle cx="774.7" cy="214.5" r="4.4" fill="#000" stroke="none"/>
<circle cx="788.1" cy="214.5" r="4.4" fill="#000" stroke="none"/>
<circle cx="801.6" cy="214.5" r="4.4" fill="#000" stroke="none"/>
<circle cx="815.3" cy="214.5" r="4.4" fill="#000" stroke="none"/>
<circle cx="828.4" cy="214.5" r="4.4" fill="#000" stroke="none"/>
</g>
<clipPath id="cRb"><circle cx="888.1" cy="77.8" r="26.8"/></clipPath>
<g clip-path="url(#cRb)">
<g transform="translate(858,48) scale(0.09551)" stroke="#000" fill="#fff" stroke-width="11.6" stroke-linejoin="round">
<rect x="292" y="210" width="50" height="42" stroke-width="10.2"/>
<ellipse cx="315" cy="165" rx="46" ry="56" stroke-width="14.5"/>
<path d="M284,150 Q296,214 334,214 Q352,190 348,148" fill="none" stroke-width="7.2"/>
<ellipse cx="300" cy="165" rx="7" ry="5" fill="#000" stroke="none"/>
<polygon points="232,262 264,254 264,400 256,470 244,520 234,470 230,400" stroke-width="10.2"/>
<polygon points="400,256 432,266 434,400 420,440 402,486 390,480 398,410 400,400" stroke-width="10.2"/>
<polygon points="406,262 432,268 432,302 406,298" fill="#000" stroke="none"/>
<ellipse cx="390" cy="396" rx="11" ry="17" fill="#000" stroke="none"/>
<ellipse cx="240" cy="400" rx="6" ry="12" fill="#000" stroke="none"/>
<polygon points="258,250 404,252 388,442 264,442" stroke-width="11.6"/>
<polygon points="268,266 386,266 356,438 278,438" stroke-width="8.7"/>
<polygon points="262,444 380,448 394,482 248,480" stroke-width="10.2"/>
<polygon points="248,478 314,482 302,610 262,610" stroke-width="10.2"/>
<polygon points="322,482 394,480 390,610 332,610" stroke-width="10.2"/>
<line x1="276" y1="492" x2="282" y2="600" stroke-width="5.8"/><line x1="350" y1="486" x2="346" y2="600" stroke-width="5.8"/><line x1="370" y1="486" x2="374" y2="600" stroke-width="5.8"/>
<path d="M262,480 Q290,470 300,500" fill="none" stroke-width="5.8"/><path d="M330,500 Q345,470 380,478" fill="none" stroke-width="5.8"/>
</g>
</g>
<g transform="translate(864,90) scale(0.19117)" stroke="#000" fill="#fff" stroke-width="9.5">
<path d="M305,138 L305,262 A25,25 0 0 0 355,262 L355,138"/>
<ellipse cx="330" cy="135" rx="34" ry="11" stroke-width="11"/>
<ellipse cx="330" cy="205" rx="22" ry="7" fill="#000" stroke="none"/>
</g>
<clipPath id="cTl"><circle cx="943.8" cy="191.4" r="26.8"/></clipPath>
<g clip-path="url(#cTl)">
<g transform="translate(880,150) scale(0.19099)" stroke="#000" fill="#000" stroke-linejoin="round">
<rect x="323" y="300" width="24" height="80" fill="#fff" stroke-width="5"/>
<polygon points="340,140 382,122 382,290 340,308" stroke-width="3"/>
<polygon points="295,128 332,103 382,122 340,140" stroke-width="3"/>
<polygon points="295,128 340,140 340,308 295,293" fill="#fff" stroke-width="8"/>
<ellipse cx="318" cy="165" rx="15.5" ry="18" fill="#000" stroke="none"/>
<ellipse cx="318" cy="217" rx="15.5" ry="18" fill="#999" stroke="none"/>
<ellipse cx="318" cy="269" rx="15.5" ry="18" fill="#666" stroke="none"/>
</g>
</g>
</svg>
</body></html>
